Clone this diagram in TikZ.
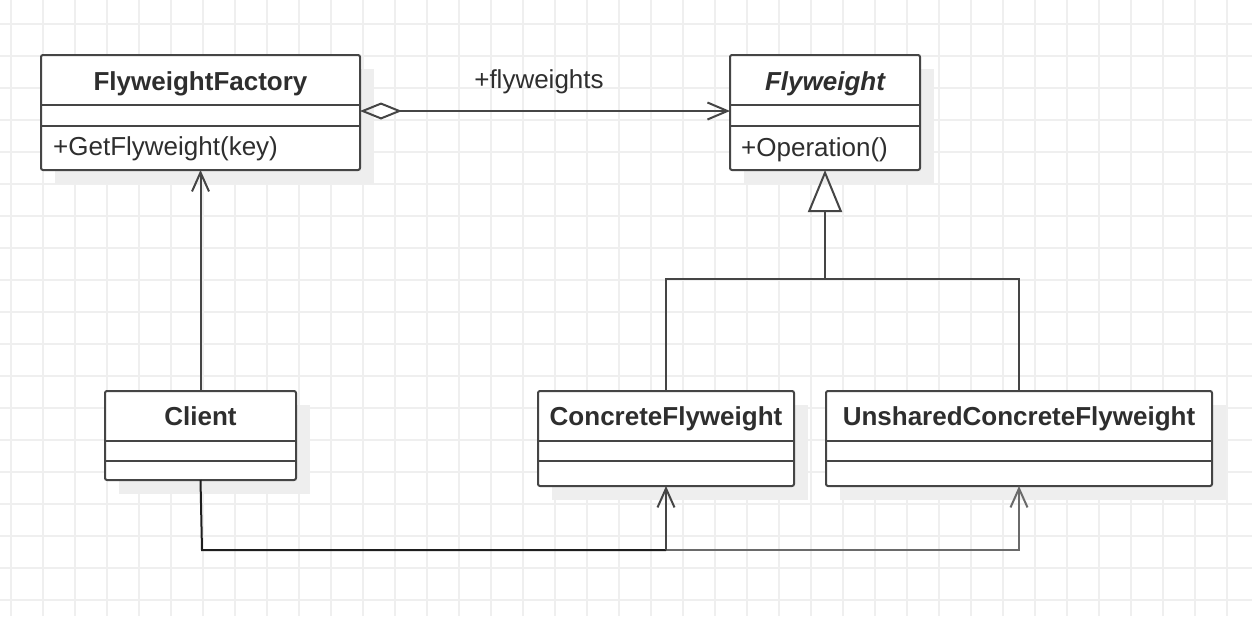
\documentclass[tikz,border=0pt]{standalone}
\usepackage{fontspec}
\setmainfont{Liberation Sans}
\usetikzlibrary{arrows.meta}
\definecolor{gridc}{HTML}{EFEFEF}
\definecolor{shadc}{HTML}{EEEEEE}
\definecolor{linec}{HTML}{454545}
\definecolor{textc}{HTML}{2E2E2E}
\definecolor{darkc}{HTML}{1E1E1E}
\definecolor{lightc}{HTML}{6A6A6A}
\tikzset{
  umlbox/.style={draw=linec, line width=2pt, fill=white, rounded corners=2pt, inner sep=0pt, outer sep=0pt},
  sep/.style={draw=linec, line width=2pt},
  shadowbox/.style={fill=shadc},
  title/.style={text=textc, font=\bfseries\fontsize{26}{30}\selectfont, inner sep=0pt, anchor=base},
  member/.style={text=textc, font=\fontsize{26}{30}\selectfont, inner sep=0pt, anchor=base west},
  conn/.style={draw=linec, line width=2pt},
  openarrow/.style={-{Straight Barb[length=19pt,width=17pt]}},
}
\begin{document}
\begin{tikzpicture}[x=1pt,y=-1pt]
\useasboundingbox (0,0) rectangle (1252,616);
\fill[white] (0,0) rectangle (1252,616);
% grid
\foreach \gx in {11,43,...,1252} \draw[gridc, line width=2pt] (\gx,0) -- (\gx,616);
\foreach \gy in {24,56,...,616} \draw[gridc, line width=2pt] (0,\gy) -- (1252,\gy);

% shadows
\fill[shadowbox] (55,69) rectangle (374,184);
\fill[shadowbox] (744,69) rectangle (934,184);
\fill[shadowbox] (119,405) rectangle (310,494);
\fill[shadowbox] (552,405) rectangle (808,500);
\fill[shadowbox] (840,405) rectangle (1226,500);

% FlyweightFactory
\node[umlbox, minimum width=319pt, minimum height=115pt] (ff) at (200.5,112.5) {};
\draw[sep] (ff.west |- 0,105) -- (ff.east |- 0,105);
\draw[sep] (ff.west |- 0,126) -- (ff.east |- 0,126);
\node[title] (ffname) at (200.5,90) {FlyweightFactory};
\node[member] (ffop) at (53,155) {+GetFlyweight(key)};

% Flyweight
\node[umlbox, minimum width=190pt, minimum height=115pt] (fw) at (825,112.5) {};
\draw[sep] (fw.west |- 0,105) -- (fw.east |- 0,105);
\draw[sep] (fw.west |- 0,126) -- (fw.east |- 0,126);
\node[title, font=\bfseries\itshape\fontsize{26}{30}\selectfont] (fwname) at (825,90) {Flyweight};
\node[member] (fwop) at (741,156) {+Operation()};

% Client
\node[umlbox, minimum width=191pt, minimum height=89pt] (cl) at (200.5,435.5) {};
\draw[sep] (cl.west |- 0,441) -- (cl.east |- 0,441);
\draw[sep] (cl.west |- 0,461) -- (cl.east |- 0,461);
\node[title] (clname) at (200.5,425) {Client};

% ConcreteFlyweight
\node[umlbox, minimum width=256pt, minimum height=95pt] (cf) at (666,438.5) {};
\draw[sep] (cf.west |- 0,441) -- (cf.east |- 0,441);
\draw[sep] (cf.west |- 0,461) -- (cf.east |- 0,461);
\node[title] (cfname) at (666,425) {ConcreteFlyweight};

% UnsharedConcreteFlyweight
\node[umlbox, minimum width=386pt, minimum height=95pt] (ucf) at (1019,438.5) {};
\draw[sep] (ucf.west |- 0,441) -- (ucf.east |- 0,441);
\draw[sep] (ucf.west |- 0,461) -- (ucf.east |- 0,461);
\node[title] (ucfname) at (1019,425) {UnsharedConcreteFlyweight};

% aggregation
\draw[conn, {Diamond[open,length=42pt,width=17pt]}-{Straight Barb[length=20pt,width=17pt]}]
  (ff.east |- 0,111) -- (fw.west |- 0,111);
\node[member, anchor=base] (flylbl) at (539,88) {+flyweights};

% inheritance
\coordinate (j) at (825,279);
\draw[conn] (cf.north) |- (j) -| (ucf.north);
\draw[conn, -{Triangle[open,length=42pt,width=34pt]}] (j) -- (fw.south);

% client -> factory
\draw[conn, openarrow] (cl.north) -- (ff.south);

% client -> concrete flyweights
\coordinate (b1) at (202,550);
\draw[conn, draw=lightc, openarrow] (cf.south |- b1) -| (ucf.south);
\draw[conn, draw=darkc] (cl.south) -- (b1) -- (cf.south |- b1);
\draw[conn, openarrow] (cf.south |- b1) -- (cf.south);
\end{tikzpicture}
\end{document}
